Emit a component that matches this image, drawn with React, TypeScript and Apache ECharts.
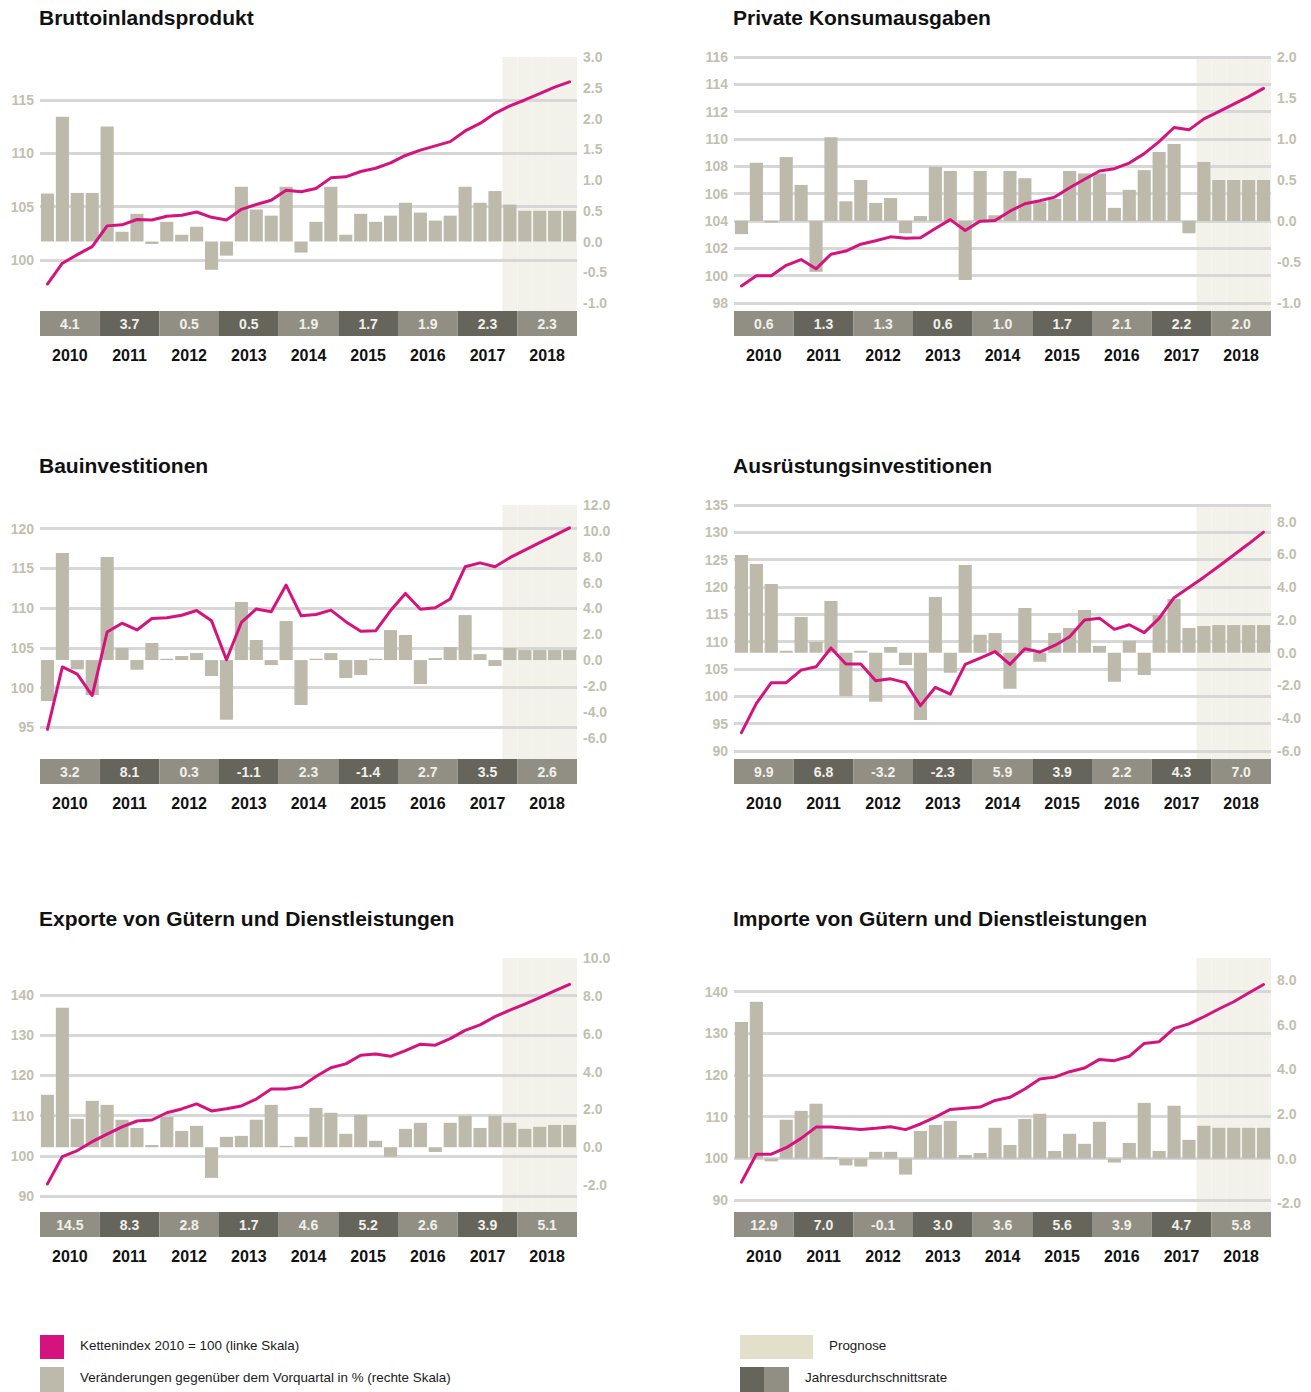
import React, { useEffect, useRef } from "react";
import * as echarts from "echarts";

const years = ["2010", "2011", "2012", "2013", "2014", "2015", "2016", "2017", "2018"];
const quarterNames = ["Q1", "Q2", "Q3", "Q4"];
const quarters = years.flatMap((y) => quarterNames.map((q) => `${q} ${y}`));
const forecastQuarters = ["Q4 2017", "Q1 2018", "Q2 2018", "Q3 2018", "Q4 2018"];

// Bruttoinlandsprodukt
const bipChange = [0.78, 2.03, 0.79, 0.79, 1.87, 0.16, 0.45, -0.04, 0.32, 0.11, 0.24, -0.46, -0.23, 0.89, 0.52, 0.42, 0.89, -0.18, 0.32, 0.89, 0.11, 0.45, 0.32, 0.42, 0.63, 0.47, 0.34, 0.42, 0.89, 0.63, 0.82, 0.6, 0.5, 0.5, 0.5, 0.5];
const bipIndex = [97.75, 99.7, 100.5, 101.25, 103.2, 103.3, 103.8, 103.75, 104.1, 104.2, 104.5, 104.0, 103.75, 104.75, 105.2, 105.6, 106.55, 106.4, 106.7, 107.7, 107.8, 108.3, 108.6, 109.1, 109.8, 110.3, 110.7, 111.1, 112.1, 112.8, 113.75, 114.45, 115.0, 115.6, 116.2, 116.7];
const bipAnnual = [4.1, 3.7, 0.5, 0.5, 1.9, 1.7, 1.9, 2.3, 2.3];

// Private Konsumausgaben
const konsumChange = [-0.16, 0.71, -0.02, 0.78, 0.44, -0.62, 1.02, 0.24, 0.5, 0.22, 0.28, -0.15, 0.06, 0.66, 0.61, -0.72, 0.61, 0.07, 0.61, 0.52, 0.23, 0.27, 0.61, 0.58, 0.58, 0.16, 0.38, 0.62, 0.84, 0.94, -0.15, 0.72, 0.5, 0.5, 0.5, 0.5];
const konsumIndex = [99.25, 100.0, 100.0, 100.76, 101.18, 100.5, 101.57, 101.8, 102.3, 102.55, 102.84, 102.74, 102.77, 103.45, 104.1, 103.3, 103.99, 104.04, 104.72, 105.26, 105.48, 105.75, 106.43, 107.05, 107.66, 107.83, 108.24, 108.93, 109.81, 110.84, 110.67, 111.47, 112.0, 112.55, 113.1, 113.7];
const konsumAnnual = [0.6, 1.3, 1.3, 0.6, 1.0, 1.7, 2.1, 2.2, 2.0];

// Bauinvestitionen
const bauChange = [-3.17, 8.28, -0.72, -2.71, 7.97, 0.93, -0.75, 1.32, 0.1, 0.31, 0.54, -1.24, -4.62, 4.49, 1.55, -0.39, 3.02, -3.48, 0.1, 0.54, -1.39, -1.16, 0.1, 2.32, 1.94, -1.86, 0.15, 1.0, 3.48, 0.46, -0.46, 0.93, 0.77, 0.77, 0.77, 0.77];
const bauIndex = [94.75, 102.6, 101.7, 99.0, 107.0, 108.1, 107.25, 108.7, 108.8, 109.1, 109.7, 108.4, 103.5, 108.2, 109.9, 109.55, 112.9, 109.05, 109.2, 109.75, 108.3, 107.1, 107.15, 109.7, 111.85, 109.85, 110.05, 111.15, 115.2, 115.7, 115.2, 116.35, 117.3, 118.25, 119.15, 120.1];
const bauAnnual = [3.2, 8.1, 0.3, -1.1, 2.3, -1.4, 2.7, 3.5, 2.6];

// Ausrüstungsinvestitionen
const ausrChange = [5.97, 5.42, 4.2, 0.12, 2.18, 0.67, 3.16, -2.65, 0.12, -2.99, 0.35, -0.75, -4.11, 3.4, -1.22, 5.36, 1.1, 1.2, -2.2, 2.73, -0.55, 1.2, 1.51, 2.61, 0.41, -1.77, 0.73, -1.36, 2.3, 3.28, 1.51, 1.63, 1.69, 1.69, 1.69, 1.69];
const ausrIndex = [93.35, 98.7, 102.5, 102.5, 104.8, 105.4, 108.85, 105.9, 105.9, 102.85, 103.2, 102.5, 98.3, 101.65, 100.4, 105.85, 107.0, 108.2, 105.85, 108.7, 108.1, 109.3, 110.9, 113.95, 114.3, 112.25, 113.1, 111.65, 114.25, 118.05, 119.9, 121.8, 123.8, 125.85, 127.9, 130.05];
const ausrAnnual = [9.9, 6.8, -3.2, -2.3, 5.9, 3.9, 2.2, 4.3, 7.0];

// Exporte
const exportChange = [2.77, 7.37, 1.5, 2.45, 2.24, 1.45, 1.02, 0.12, 1.6, 0.86, 1.13, -1.62, 0.55, 0.6, 1.45, 2.24, 0.07, 0.55, 2.08, 1.82, 0.71, 1.71, 0.34, -0.51, 0.97, 1.29, -0.25, 1.29, 1.66, 1.02, 1.66, 1.29, 0.97, 1.08, 1.18, 1.18];
const exportIndex = [93.0, 99.8, 101.3, 103.5, 105.4, 107.2, 108.65, 108.9, 110.7, 111.65, 112.9, 111.15, 111.7, 112.4, 114.1, 116.6, 116.6, 117.2, 119.7, 121.9, 122.85, 125.0, 125.3, 124.75, 126.15, 127.75, 127.5, 129.15, 131.2, 132.55, 134.6, 136.25, 137.75, 139.35, 141.0, 142.65];
const exportAnnual = [14.5, 8.3, 2.8, 1.7, 4.6, 5.2, 2.6, 3.9, 5.1];

// Importe
const importChange = [6.13, 7.04, -0.13, 1.74, 2.14, 2.46, 0.07, -0.31, -0.36, 0.3, 0.3, -0.72, 1.24, 1.51, 1.69, 0.16, 0.25, 1.38, 0.61, 1.78, 2.01, 0.34, 1.11, 0.66, 1.65, -0.18, 0.7, 2.5, 0.34, 2.37, 0.84, 1.47, 1.38, 1.38, 1.38, 1.38];
const importIndex = [94.3, 101.0, 101.0, 102.55, 104.8, 107.5, 107.5, 107.2, 106.9, 107.2, 107.6, 106.9, 108.25, 109.9, 111.75, 112.0, 112.3, 113.9, 114.65, 116.65, 119.05, 119.5, 120.8, 121.7, 123.75, 123.45, 124.5, 127.6, 128.0, 131.2, 132.3, 134.0, 135.85, 137.6, 139.7, 141.75];
const importAnnual = [12.9, 7.0, -0.1, 3.0, 3.6, 5.6, 3.9, 4.7, 5.8];

const panelTitles = [
  "Bruttoinlandsprodukt",
  "Private Konsumausgaben",
  "Bauinvestitionen",
  "Ausrüstungsinvestitionen",
  "Exporte von Gütern und Dienstleistungen",
  "Importe von Gütern und Dienstleistungen",
];
const panelChanges = [bipChange, konsumChange, bauChange, ausrChange, exportChange, importChange];
const panelIndices = [bipIndex, konsumIndex, bauIndex, ausrIndex, exportIndex, importIndex];
const panelAnnuals = [bipAnnual, konsumAnnual, bauAnnual, ausrAnnual, exportAnnual, importAnnual];
// left axis [min, max, step], right axis [min, max, step]
const leftScales = [[95.97, 119.03, 5], [98, 116, 2], [92.02, 122.98, 5], [90, 135, 5], [88.0, 149.2, 10], [89.04, 148.1, 10]];
const rightScales = [[-1, 3, 0.5], [-1, 2, 0.5], [-7.04, 12, 2], [-6, 9.02, 2], [-3.0, 10, 2], [-2.04, 9.0, 2]];

const legendTexts = [
  "Kettenindex 2010 = 100 (linke Skala)",
  "Veränderungen gegenüber dem Vorquartal in % (rechte Skala)",
  "Prognose",
  "Jahresdurchschnittsrate",
];

const FONT = "'Liberation Sans', Arial, Helvetica, sans-serif";
const COL_X = [40, 734];
const ROW_Y = [57, 505, 958];
const W = 537;
const PLOT_H = 246;
const BAND_OFF = 254;
const BAND_H = 25;

const C_BAR = "#bdbaab";
const C_LINE = "#d5137f";
const C_SHADE = "#f3f2ea";
const C_LIGHT = "#918f83";
const C_DARK = "#66655c";
const C_AXIS = "#c2bfaf";
const C_GRID = "#d7d7d7";

function aligned(v: number, step: number) {
  const r = v / step;
  return Math.abs(r - Math.round(r)) < 1e-6;
}

function buildOption() {
  const grid: any[] = [];
  const xAxis: any[] = [];
  const yAxis: any[] = [];
  const series: any[] = [];
  const title: any[] = [];

  panelTitles.forEach((t, i) => {
    const col = i % 2;
    const row = Math.floor(i / 2);
    const L = COL_X[col];
    const T = ROW_Y[row];
    const [lmin, lmax, lstep] = leftScales[i];
    const [rmin, rmax, rstep] = rightScales[i];
    const annual = panelAnnuals[i];

    title.push({
      text: t,
      left: L - 1,
      top: T - 50,
      padding: 0,
      textStyle: { fontFamily: FONT, fontSize: 21, fontWeight: "bold", color: "#111111" },
    });

    grid.push({ left: L, top: T, width: W, height: PLOT_H, containLabel: false, outerBoundsMode: "none" });
    grid.push({ left: L, top: T, width: W, height: BAND_OFF, containLabel: false, outerBoundsMode: "none" });
    grid.push({ left: L, top: T + BAND_OFF, width: W, height: BAND_H, containLabel: false, outerBoundsMode: "none" });

    xAxis.push({ gridIndex: 3 * i, type: "category", data: quarters, show: false });
    xAxis.push({ gridIndex: 3 * i + 1, type: "category", data: quarters, show: false });
    xAxis.push({
      gridIndex: 3 * i + 2,
      type: "category",
      data: years,
      axisLine: { show: false },
      axisTick: { show: false },
      axisLabel: { interval: 0, margin: 11, color: "#111111", fontFamily: FONT, fontSize: 16, fontWeight: "bold" },
    });

    yAxis.push({
      gridIndex: 3 * i,
      type: "value",
      position: "left",
      min: lmin,
      max: lmax,
      minInterval: lstep,
      maxInterval: lstep,
      splitNumber: 6,
      z: 1,
      axisLine: { show: false },
      axisTick: { show: false },
      axisLabel: {
        margin: 6,
        color: C_AXIS,
        fontFamily: FONT,
        fontSize: 14,
        fontWeight: "bold",
        showMinLabel: aligned(lmin, lstep),
        showMaxLabel: aligned(lmax, lstep),
        formatter: (v: number) => String(Math.round(v)),
      },
      splitLine: {
        show: true,
        showMinLine: aligned(lmin, lstep),
        showMaxLine: aligned(lmax, lstep),
        lineStyle: { color: C_GRID, width: 3 },
      },
    });
    yAxis.push({
      gridIndex: 3 * i,
      type: "value",
      position: "right",
      min: rmin,
      max: rmax,
      minInterval: rstep,
      maxInterval: rstep,
      splitNumber: 8,
      z: 1,
      axisLine: { show: false },
      axisTick: { show: false },
      splitLine: { show: false },
      axisLabel: {
        margin: 6,
        color: C_AXIS,
        fontFamily: FONT,
        fontSize: 14,
        fontWeight: "bold",
        showMinLabel: aligned(rmin, rstep),
        showMaxLabel: aligned(rmax, rstep),
        formatter: (v: number) => (Math.abs(v) < 1e-9 ? "0.0" : v.toFixed(1)),
      },
    });
    yAxis.push({ gridIndex: 3 * i + 1, type: "value", min: 0, max: 1, show: false });
    yAxis.push({ gridIndex: 3 * i + 2, type: "value", min: 0, max: 1, show: false });

    series.push({
      type: "bar",
      xAxisIndex: 3 * i + 1,
      yAxisIndex: 4 * i + 2,
      data: quarters.map((q) => (forecastQuarters.includes(q) ? 1 : "-")),
      barWidth: "100%",
      itemStyle: { color: C_SHADE },
      silent: true,
      z: 0,
    });
    series.push({
      type: "bar",
      xAxisIndex: 3 * i,
      yAxisIndex: 4 * i + 1,
      data: panelChanges[i],
      barCategoryGap: "12%",
      itemStyle: { color: C_BAR },
      z: 2,
    });
    series.push({
      type: "line",
      xAxisIndex: 3 * i,
      yAxisIndex: 4 * i,
      data: panelIndices[i],
      symbol: "none",
      showSymbol: false,
      lineStyle: { color: C_LINE, width: 3, cap: "round", join: "round" },
      z: 3,
    });
    series.push({
      type: "bar",
      xAxisIndex: 3 * i + 2,
      yAxisIndex: 4 * i + 3,
      data: years.map((y, k) => ({ value: 1, itemStyle: { color: k % 2 === 0 ? C_LIGHT : C_DARK } })),
      barWidth: "100%",
      z: 2,
      label: {
        show: true,
        position: "inside",
        formatter: (prm: any) => annual[prm.dataIndex].toFixed(1),
        color: "#f1f0ea",
        fontFamily: FONT,
        fontSize: 14,
        fontWeight: "bold",
      },
    });
  });

  const legendFont = { fontFamily: FONT, fontSize: 13.4, fill: "#1a1a1a" };
  const graphic: any[] = [
    { type: "rect", left: 40, top: 1335, shape: { width: 24, height: 24 }, style: { fill: C_LINE } },
    { type: "text", left: 80, top: 1339, style: { ...legendFont, text: legendTexts[0] } },
    { type: "rect", left: 40, top: 1367, shape: { width: 24, height: 25 }, style: { fill: C_BAR } },
    { type: "text", left: 80, top: 1371, style: { ...legendFont, text: legendTexts[1] } },
    { type: "rect", left: 740, top: 1335, shape: { width: 73, height: 24 }, style: { fill: "#e2dfca" } },
    { type: "text", left: 829, top: 1339, style: { ...legendFont, text: legendTexts[2] } },
    { type: "rect", left: 740, top: 1367, shape: { width: 24, height: 25 }, style: { fill: C_DARK } },
    { type: "rect", left: 764, top: 1367, shape: { width: 25, height: 25 }, style: { fill: C_LIGHT } },
    { type: "text", left: 805, top: 1371, style: { ...legendFont, text: legendTexts[3] } },
  ];

  return {
    animation: false,
    backgroundColor: "#ffffff",
    textStyle: { fontFamily: FONT },
    title,
    grid,
    xAxis,
    yAxis,
    series,
    graphic,
  };
}

export default function App() {
  const ref = useRef<HTMLDivElement | null>(null);
  useEffect(() => {
    if (!ref.current) return;
    const chart = echarts.init(ref.current, null, { renderer: "svg" });
    chart.setOption(buildOption() as any);
    return () => chart.dispose();
  }, []);
  return (
    <div
      ref={ref}
      style={{ position: "absolute", left: 0, top: 0, width: 1311, height: 1392, background: "#ffffff" }}
    />
  );
}
